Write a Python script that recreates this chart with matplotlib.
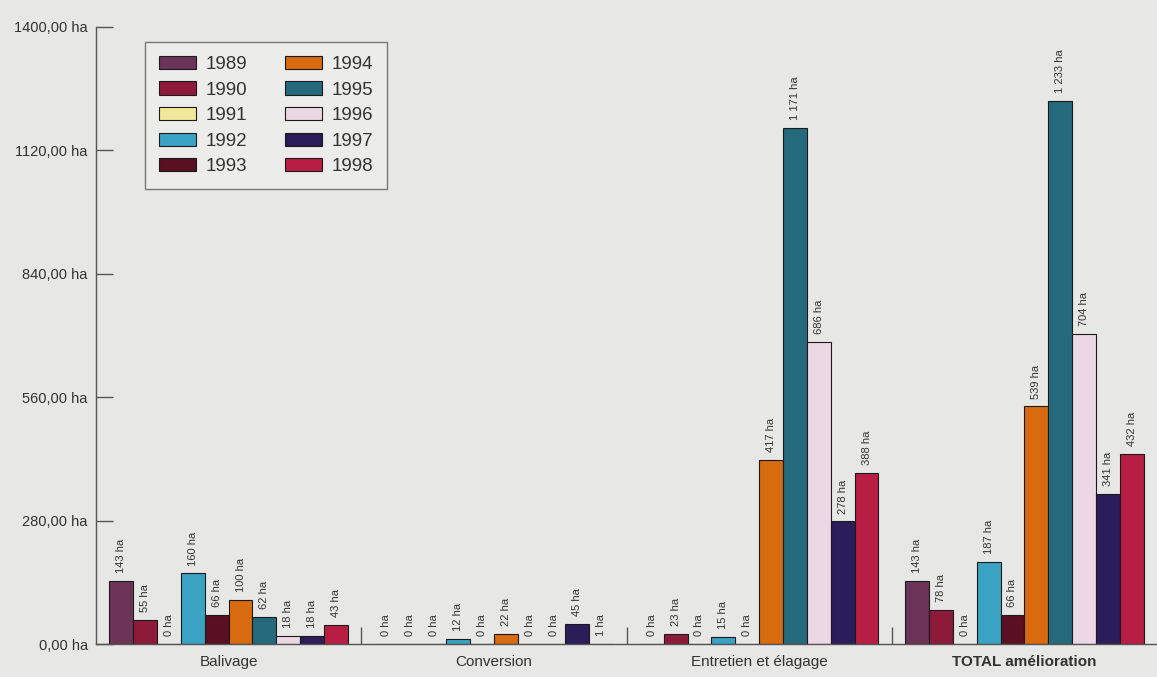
import numpy as np
import matplotlib.pyplot as plt
from matplotlib.ticker import FuncFormatter

plt.rcParams['font.family'] = ['Liberation Sans Narrow', 'Liberation Sans', 'DejaVu Sans']

categories = ['Balivage', 'Conversion', 'Entretien et élagage', 'TOTAL amélioration']
years = ['1989', '1990', '1991', '1992', '1993', '1994', '1995', '1996', '1997', '1998']

# surfaces (ha) per year, one list per category
balivage = [143, 55, 0, 160, 66, 100, 62, 18, 18, 43]
conversion = [0, 0, 0, 12, 0, 22, 0, 0, 45, 1]
entretien = [0, 23, 0, 15, 0, 417, 1171, 686, 278, 388]
total = [143, 78, 0, 187, 66, 539, 1233, 704, 341, 432]

colors = ['#6b3358', '#8e1a3a', '#f0e898', '#3aa3c4', '#5a0f22',
          '#d86a10', '#256a7c', '#ecd8e4', '#2a1d5a', '#b81e44']

values = np.array([balivage, conversion, entretien, total])

bg = '#e7e7e5'
fig = plt.figure(figsize=(11.57, 6.77), dpi=100)
fig.patch.set_facecolor(bg)
ax = fig.add_axes([96 / 1157, 1 - 644 / 677, 1 - 96 / 1157, 617 / 677])
ax.set_facecolor(bg)

x = np.arange(len(categories))
w = 0.09
for i, year in enumerate(years):
    pos = x + (i - 4.5) * w
    ax.bar(pos, values[:, i], width=w, color=colors[i], edgecolor='#1a1a1a',
           linewidth=0.8, label=year, zorder=2)
    for xp, v in zip(pos, values[:, i]):
        txt = f'{v:,} ha'.replace(',', ' ')
        ax.text(xp, v + 18, txt, rotation=90, ha='center', va='bottom',
                fontsize=8, color='#333333')

ax.set_xlim(-0.5, 3.5)
ax.set_ylim(0, 1400)
ax.set_yticks([0, 280, 560, 840, 1120, 1400])
ax.yaxis.set_major_formatter(FuncFormatter(lambda v, p: f'{v:.2f}'.replace('.', ',') + ' ha'))
ax.tick_params(axis='y', direction='in', length=12, width=1, colors='#555555',
               labelsize=10.5, labelcolor='#333333', pad=6)

ax.set_xticks(x)
ax.set_xticklabels(categories, fontsize=11, color='#333333')
ax.get_xticklabels()[3].set_fontweight('bold')
ax.tick_params(axis='x', which='major', length=0, pad=8)
ax.set_xticks([0.5, 1.5, 2.5], minor=True)
ax.tick_params(axis='x', which='minor', direction='in', length=12, width=1, colors='#555555')

for s in ['top', 'right']:
    ax.spines[s].set_visible(False)
for s in ['left', 'bottom']:
    ax.spines[s].set_color('#555555')
    ax.spines[s].set_linewidth(1)

leg = ax.legend(ncol=2, loc='upper left', bbox_to_anchor=(0.046, 0.976),
                fontsize=13.5, frameon=True, fancybox=False, edgecolor='#777777',
                facecolor='#ececea', framealpha=1, handlelength=2.0, handleheight=0.7,
                labelspacing=0.45, columnspacing=2.0, handletextpad=0.5,
                borderpad=0.75, borderaxespad=0)
for t in leg.get_texts():
    t.set_color('#333333')

fig.savefig('out.png', dpi=100, facecolor=bg)
